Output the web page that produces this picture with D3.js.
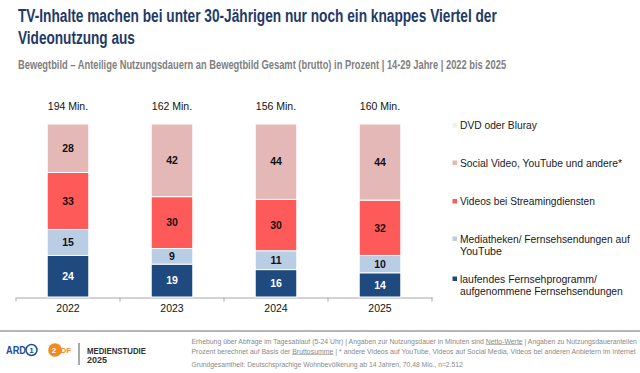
<!DOCTYPE html>
<html><head><meta charset="utf-8">
<script src="https://cdn.jsdelivr.net/npm/d3@7"></script>
<style>
html,body{margin:0;padding:0;background:#fff;}
svg{display:block;font-family:"Liberation Sans",Arial,sans-serif;}
</style></head>
<body><svg id="c" width="640" height="373"></svg>
<script>
const years = ["2022","2023","2024","2025"];
const totals = ["194 Min.","162 Min.","156 Min.","160 Min."];
const tvLive = [24,19,16,14];
const mediatheken = [15,9,11,10];
const streaming = [33,30,30,32];
const social = [28,42,44,44];
const dvd = [0,0,0,0];
const seriesKeys = ["tv","med","str","soc","dvd"];
const colors = ["#1f4a80","#b9cde4","#ff5a5a","#e5b8b8","#eef1e6"];
const labelColors = ["#ffffff","#111","#111","#111","#111"];

const svg = d3.select("#c");

// place a text at (x,y) and squeeze it horizontally to a target width
function fitText(parent, str, x, y, targetW){
  const t = parent.append("text").attr("x",0).attr("y",0).text(str);
  const w = t.node().getComputedTextLength();
  const s = Math.min(1, targetW / w);
  t.attr("transform",`translate(${x},${y}) scale(${s},1)`);
  return {t, s};
}

// title
const title = svg.append("g").attr("fill","#1f3a68").attr("font-weight","bold").attr("font-size",18);
fitText(title,"TV-Inhalte machen bei unter 30-Jährigen nur noch ein knappes Viertel der",18,21.5,479);
fitText(title,"Videonutzung aus",18,43.5,117);
const sub = svg.append("g").attr("fill","#7f7f7f").attr("font-weight","bold").attr("font-size",13);
fitText(sub,"Bewegtbild – Anteilige Nutzungsdauern an Bewegtbild Gesamt (brutto) in Prozent | 14-29 Jahre | 2022 bis 2025",18,68.5,489);

// data
const rows = years.map((y,i)=>({year:y,tv:tvLive[i],med:mediatheken[i],str:streaming[i],soc:social[i],dvd:dvd[i]}));
const stack = d3.stack().keys(seriesKeys).offset(d3.stackOffsetExpand)(rows);

const x = d3.scaleBand().domain(years).range([16,432]).paddingInner(0.6).paddingOuter(0.3);
const y = d3.scaleLinear().domain([0,1]).range([297,124]);

// axis
const axisG = svg.append("g").attr("transform","translate(0,297.5)")
  .call(d3.axisBottom(x).tickSize(0).tickPadding(7).tickSizeOuter(0));
axisG.select(".domain").attr("stroke","#a6a6a6");
axisG.selectAll(".tick text").attr("font-size",10.5).attr("fill","#111").attr("font-family","Liberation Sans,Arial,sans-serif");
const bounds = d3.range(years.length+1).map(i=>x.range()[0]+i*x.step());
axisG.selectAll("line.bnd").data(bounds).join("line").attr("class","bnd")
  .attr("x1",d=>d).attr("x2",d=>d).attr("y1",0).attr("y2",4).attr("stroke","#a6a6a6");

// bars
const layers = svg.append("g").selectAll("g").data(stack).join("g")
  .attr("fill",(d,i)=>colors[i]);
layers.selectAll("rect").data(d=>d).join("rect")
  .attr("x",d=>x(d.data.year)).attr("width",x.bandwidth())
  .attr("y",d=>y(d[1])).attr("height",d=>Math.max(0,y(d[0])-y(d[1])))
  .attr("stroke","#fff").attr("stroke-width",1);

// value labels
stack.forEach((s,si)=>{
  svg.append("g").selectAll("text").data(s.filter(d=>d.data[s.key]>0)).join("text")
    .attr("x",d=>x(d.data.year)+x.bandwidth()/2)
    .attr("y",d=>(y(d[0])+y(d[1]))/2)
    .attr("dy","0.36em").attr("text-anchor","middle")
    .attr("font-size",10.5).attr("font-weight","bold").attr("fill",labelColors[si])
    .text(d=>d.data[s.key]);
});

// totals
svg.append("g").selectAll("text").data(years).join("text")
  .attr("x",d=>x(d)+x.bandwidth()/2).attr("y",106.5).attr("dy","0.36em")
  .attr("text-anchor","middle").attr("font-size",10.5).attr("fill","#111")
  .text((d,i)=>totals[i]);

// legend
const legendItems = [
  {k:4, lines:["DVD oder Bluray"], w:[77], y:125.5},
  {k:3, lines:["Social Video, YouTube und andere*"], w:[162], y:163},
  {k:2, lines:["Videos bei Streamingdiensten"], w:[135], y:201.5},
  {k:1, lines:["Mediatheken/ Fernsehsendungen auf","YouTube"], w:[170,42], y:239},
  {k:0, lines:["laufendes Fernsehprogramm/","aufgenommene Fernsehsendungen"], w:[137,163], y:279}
];
const lg = svg.append("g").attr("font-size",10.8).attr("fill","#1a1a1a");
legendItems.forEach(it=>{
  lg.append("rect").attr("x",452.5).attr("y",it.y-2.5).attr("width",4.5).attr("height",4.5).attr("fill",colors[it.k]);
  it.lines.forEach((t,j)=>{
    fitText(lg,t,460,it.y+j*12.5+3.9,it.w[j]);
  });
});

// footer
svg.append("line").attr("x1",0).attr("x2",640).attr("y1",331).attr("y2",331).attr("stroke","#b5b5b5").attr("stroke-width",2);
// ARD logo
const ard = svg.append("g").attr("font-size",11).attr("font-weight","bold").attr("fill","#1c4f9c");
fitText(ard,"ARD",6,354,20);
svg.append("circle").attr("cx",31.5).attr("cy",350).attr("r",5.5).attr("fill","none").attr("stroke","#1c4f9c").attr("stroke-width",1.5);
svg.append("text").attr("x",31.5).attr("y",350).attr("dy","0.36em").attr("text-anchor","middle").attr("font-size",8).attr("font-weight","bold").attr("fill","#1c4f9c").text("1");
// ZDF logo
svg.append("circle").attr("cx",55).attr("cy",350).attr("r",6.8).attr("fill","#f28a1e");
svg.append("text").attr("x",54).attr("y",350).attr("dy","0.36em").attr("text-anchor","middle").attr("font-size",8).attr("font-weight","bold").attr("fill","#fff").text("2");
svg.append("text").attr("x",60.5).attr("y",350).attr("dy","0.36em").attr("font-size",8).attr("font-weight","bold").attr("fill","#f28a1e").text("DF");
svg.append("line").attr("x1",79).attr("x2",79).attr("y1",343).attr("y2",365).attr("stroke","#555").attr("stroke-width",1);
const ms = svg.append("g").attr("font-size",9).attr("font-weight","bold").attr("fill","#333");
fitText(ms,"MEDIENSTUDIE",87,353.7,59);
ms.append("text").attr("x",87).attr("y",362.7).text("2025");

// footnotes
const fn = svg.append("g").attr("font-size",7).attr("fill","#8a8a8a");
function footLine(str, yy, w, under){
  const r = fitText(fn,str,191.5,yy,w);
  under.forEach(u=>{
    const i = str.indexOf(u);
    const node = r.t.node();
    const x0 = node.getSubStringLength(0,i)*r.s;
    const uw = node.getSubStringLength(i,u.length)*r.s;
    fn.append("line").attr("x1",191.5+x0).attr("x2",191.5+x0+uw)
      .attr("y1",yy+1).attr("y2",yy+1).attr("stroke","#8a8a8a").attr("stroke-width",0.6);
  });
}
footLine("Erhebung über Abfrage im Tagesablauf (5-24 Uhr) | Angaben zur Nutzungsdauer in Minuten sind Netto-Werte | Angaben zu Nutzungsdaueranteilen",343.5,446,["Netto-Werte"]);
footLine("Prozent berechnet auf Basis der Bruttosumme | * andere Videos auf YouTube, Videos auf Social Media, Videos bei anderen Anbietern im Internet",353.5,445,["Bruttosumme"]);
footLine("Grundgesamtheit: Deutschsprachige Wohnbevölkerung ab 14 Jahren, 70,48 Mio., n=2.512",366.5,272,[]);
</script></body></html>
